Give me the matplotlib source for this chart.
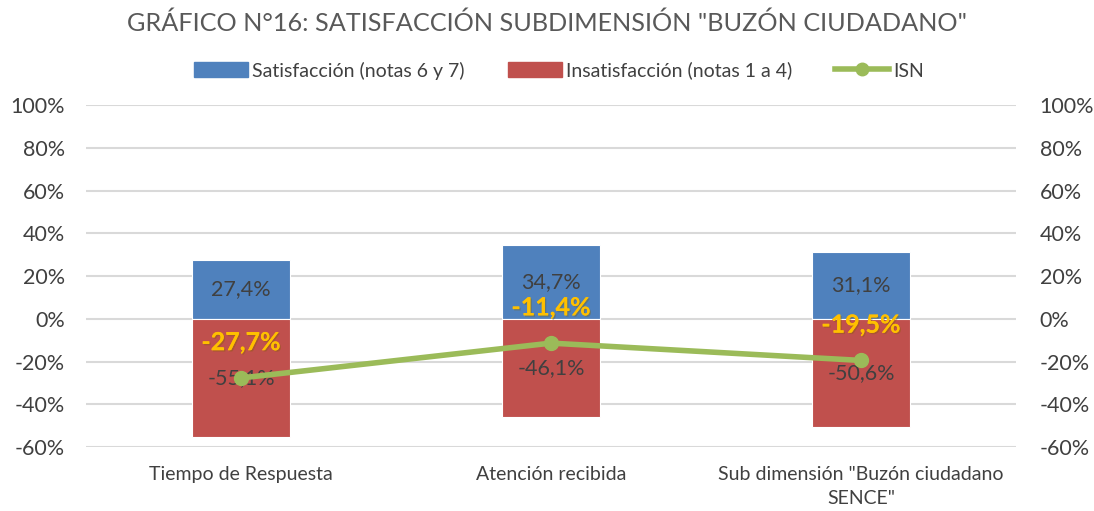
import matplotlib.pyplot as plt
import matplotlib.patheffects as pe
from matplotlib.lines import Line2D
from matplotlib.patches import Patch

plt.rcParams['font.family'] = ['Lato', 'DejaVu Sans']

categories = ['Tiempo de Respuesta', 'Atención recibida', 'Sub dimensión "Buzón ciudadano\nSENCE"']
satisfaccion = [27.4, 34.7, 31.1]
insatisfaccion = [-55.1, -46.1, -50.6]
isn = [-27.7, -11.4, -19.5]
yticks = [-60, -40, -20, 0, 20, 40, 60, 80, 100]

BLUE = '#4F81BD'
RED = '#C0504D'
GREEN = '#9BBB59'
TEXT = '#404040'
fmt = lambda v: f"{v:.1f}%".replace('.', ',')

fig = plt.figure(figsize=(10.94, 5.11), dpi=100)
ax = fig.add_axes([86 / 1094, 64 / 511, 930 / 1094, 342 / 511])
x = range(len(categories))

ax.bar(x, satisfaccion, width=0.316, color=BLUE, edgecolor='white', linewidth=0.8, zorder=2)
ax.bar(x, insatisfaccion, width=0.316, color=RED, edgecolor='white', linewidth=0.8, zorder=2)

for i in x:
    ax.text(i, satisfaccion[i] / 2, fmt(satisfaccion[i]), ha='center', va='center',
            fontsize=15.5, color=TEXT, zorder=5)
    ax.text(i, insatisfaccion[i] / 2, fmt(insatisfaccion[i]), ha='center', va='center',
            fontsize=15.5, color=TEXT, zorder=5)

ax.set_xlim(-0.5, 2.5)
ax.set_ylim(-60, 100)
ax.set_yticks(yticks)
ax.set_yticklabels([f"{t}%" for t in yticks])
ax.set_xticks(list(x))
ax.set_xticklabels(categories, linespacing=1.45)
ax.grid(axis='y', color='#D9D9D9', linewidth=1.5, zorder=0)
ax.set_axisbelow(True)
for s in ax.spines.values():
    s.set_visible(False)
ax.tick_params(axis='both', length=0, colors=TEXT)
ax.tick_params(axis='y', labelsize=15.5, pad=15)
ax.tick_params(axis='x', labelsize=14, pad=14)

ax2 = ax.twinx()
ax2.set_ylim(-60, 100)
ax2.set_yticks(yticks)
ax2.set_yticklabels([f"{t}%" for t in yticks])
for s in ax2.spines.values():
    s.set_visible(False)
ax2.tick_params(axis='y', length=0, colors=TEXT, labelsize=15.5, pad=17)
ax2.plot(list(x), isn, color=GREEN, linewidth=4, marker='o', markersize=10, zorder=4)

shadow = [pe.withSimplePatchShadow(offset=(1, -1), shadow_rgbFace='#7F6000', alpha=0.35), pe.Normal()]
for i in x:
    ax2.text(i, isn[i] + 16.5, fmt(isn[i]), ha='center', va='center', fontsize=18,
             fontweight='bold', color='#FFC000', zorder=6, path_effects=shadow)

fig.text(0.5, 0.955, 'GRÁFICO N°16: SATISFACCIÓN SUBDIMENSIÓN "BUZÓN CIUDADANO"',
         ha='center', va='center', fontsize=18.2, color='#595959')

handles = [Patch(color=BLUE), Patch(color=RED),
           Line2D([0], [0], color=GREEN, linewidth=4, marker='o', markersize=9)]
labels = ['Satisfacción (notas 6 y 7)', 'Insatisfacción (notas 1 a 4)', 'ISN']
fig.legend(handles, labels, loc='center', bbox_to_anchor=(0.511, 0.862), ncol=3, frameon=False,
           fontsize=14, labelcolor=TEXT, handlelength=2.8, handleheight=0.8,
           columnspacing=2.2, handletextpad=0.2)

fig.savefig('out.png', dpi=100)
